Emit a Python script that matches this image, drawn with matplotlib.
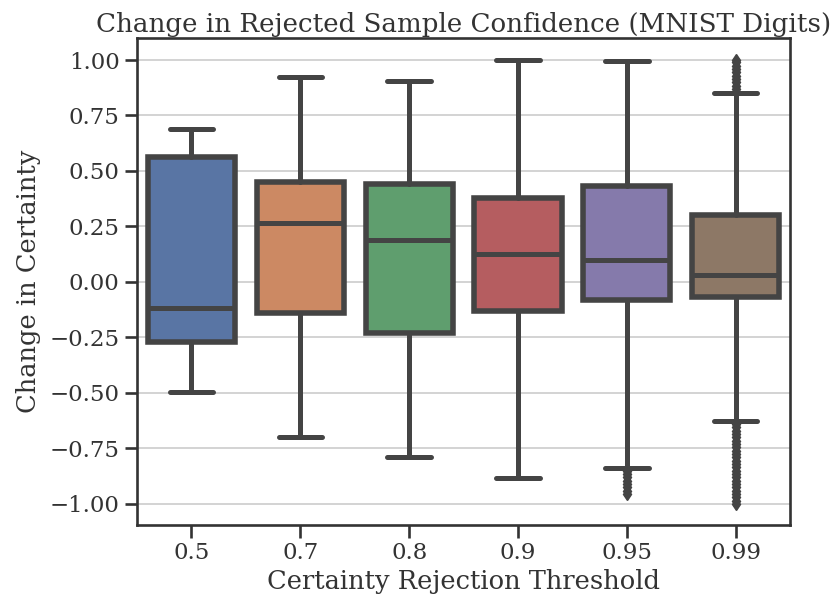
import matplotlib
matplotlib.use("Agg")
import matplotlib.pyplot as plt
import seaborn as sns

sns.set_style("ticks")
plt.rcParams['font.family'] = ['DejaVu Serif']

categories = ["0.5", "0.7", "0.8", "0.9", "0.95", "0.99"]
q1 = [-0.27, -0.14, -0.23, -0.13, -0.081, -0.068]
median = [-0.117, 0.266, 0.19, 0.126, 0.099, 0.032]
q3 = [0.563, 0.45, 0.44, 0.378, 0.432, 0.30]
whislo = [-0.495, -0.698, -0.788, -0.883, -0.838, -0.626]
whishi = [0.69, 0.923, 0.905, 1.0, 0.995, 0.85]
fliers_095 = [-0.85, -0.865, -0.88, -0.895, -0.91, -0.925, -0.94, -0.955]
fliers_099 = [0.87, 0.885, 0.90, 0.915, 0.93, 0.945, 0.96, 0.975, 0.99, 1.0,
              -0.64, -0.655, -0.67, -0.685, -0.70, -0.715, -0.73, -0.745,
              -0.76, -0.775, -0.79, -0.805, -0.82, -0.835, -0.85, -0.865,
              -0.88, -0.895, -0.91, -0.925, -0.94, -0.955, -0.97, -0.985, -1.0]
fliers = [[], [], [], [], fliers_095, fliers_099]

palette = sns.color_palette("deep", 6)
colors = [sns.desaturate(c, 0.75) for c in palette]
line_col = "#444444"
text_col = "#333333"

fig, ax = plt.subplots(figsize=(8.37, 5.97), dpi=100)
fig.subplots_adjust(left=0.1637, right=0.944, top=0.9363, bottom=0.1206)

stats = []
for i in range(len(categories)):
    stats.append(dict(med=median[i], q1=q1[i], q3=q3[i], whislo=whislo[i],
                      whishi=whishi[i], fliers=fliers[i], label=categories[i]))

lw = 3.6
bp = ax.bxp(stats, positions=range(len(categories)), widths=0.8,
            patch_artist=True, manage_ticks=False,
            boxprops=dict(linewidth=lw + 0.4, edgecolor=line_col),
            medianprops=dict(linewidth=lw, color=line_col),
            whiskerprops=dict(linewidth=lw, color=line_col),
            capprops=dict(linewidth=lw, color=line_col, solid_capstyle='round'),
            capwidths=0.4,
            flierprops=dict(marker='d', markerfacecolor=line_col,
                            markeredgecolor=line_col, markersize=6.5))
for patch, c in zip(bp['boxes'], colors):
    patch.set_facecolor(c)
    patch.set_zorder(2)

ax.set_xticks(range(len(categories)))
ax.set_xticklabels(categories)
ax.set_xlim(-0.5, len(categories) - 0.5)
ax.set_ylim(-1.095, 1.099)
ax.set_yticks([-1.0, -0.75, -0.5, -0.25, 0.0, 0.25, 0.5, 0.75, 1.0])
ax.set_yticklabels(["\u22121.00", "\u22120.75", "\u22120.50", "\u22120.25", "0.00",
                    "0.25", "0.50", "0.75", "1.00"])
ax.yaxis.grid(True, color="#d0d0d0", linewidth=1.3, zorder=0)
ax.set_axisbelow(True)
for s in ax.spines.values():
    s.set_linewidth(1.9)
    s.set_color(text_col)
ax.tick_params(labelsize=16.5, width=1.9, length=9, colors=text_col, labelcolor=text_col)

ax.set_xlabel("Certainty Rejection Threshold", fontsize=18.5, color=text_col, labelpad=3.5)
ax.set_ylabel("Change in Certainty", fontsize=18.5, color=text_col, labelpad=6)
ax.set_title("Change in Rejected Sample Confidence (MNIST Digits)", fontsize=18.8,
             color=text_col, pad=4)

fig.savefig("out.png", dpi=100)
